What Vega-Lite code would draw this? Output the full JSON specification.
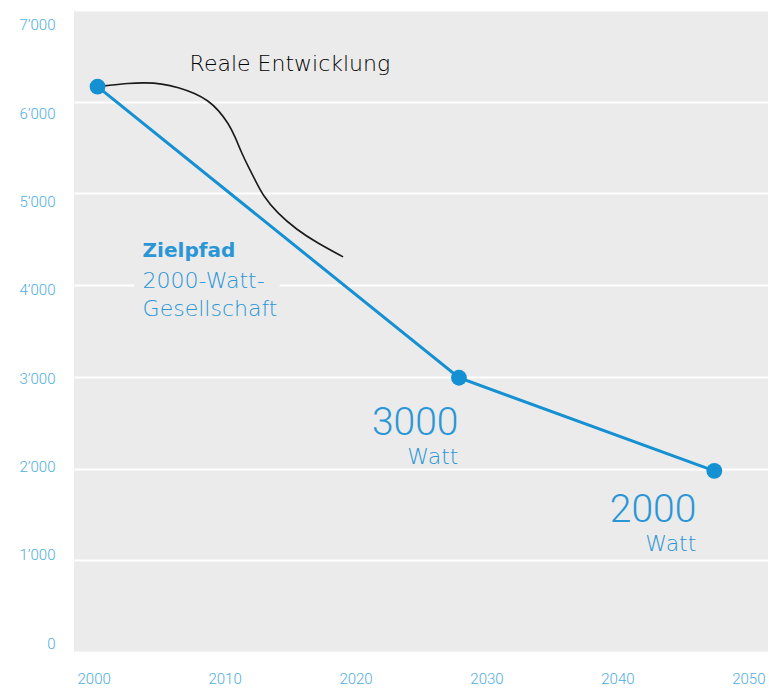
{
  "$schema": "https://vega.github.io/schema/vega-lite/v6.json",
  "width": 694,
  "height": 642,
  "autosize": "none",
  "padding": {"left": 74, "top": 10, "right": 1, "bottom": 37},
  "background": "white",
  "config": {
    "view": {"fill": "#ebebeb", "stroke": null},
    "font": "Roboto",
    "axis": {"domain": false, "ticks": false, "labelColor": "#4eaee3", "labelFont": "Roboto", "labelFontSize": 15, "title": null, "labelFontWeight": 300}
  },
  "datasets": {
    "ziel": [
      {"year": 2000.3, "value": 6165},
      {"year": 2027.9, "value": 2990},
      {"year": 2047.4, "value": 1975}
    ],
    "real": [
      {"year": 2000.3, "value": 6165},
      {"year": 2001.12, "value": 6178},
      {"year": 2002.65, "value": 6201},
      {"year": 2003.93, "value": 6208},
      {"year": 2005.2, "value": 6197},
      {"year": 2006.47, "value": 6157},
      {"year": 2007.74, "value": 6092},
      {"year": 2008.76, "value": 6011},
      {"year": 2009.52, "value": 5910},
      {"year": 2010.29, "value": 5765},
      {"year": 2010.8, "value": 5619},
      {"year": 2011.31, "value": 5438},
      {"year": 2011.81, "value": 5292},
      {"year": 2012.33, "value": 5147},
      {"year": 2012.94, "value": 4975},
      {"year": 2014.01, "value": 4787},
      {"year": 2015.53, "value": 4602},
      {"year": 2017.06, "value": 4461},
      {"year": 2019.05, "value": 4308}
    ]
  },
  "encoding": {
    "x": {"field": "year", "type": "quantitative", "scale": {"domain": [1998.5, 2051.5], "nice": false, "zero": false},
      "axis": {"values": [2000, 2010, 2020, 2030, 2040, 2050], "format": "d", "grid": false, "labelPadding": 19}},
    "y": {"field": "value", "type": "quantitative", "scale": {"domain": [0, 7000], "nice": false},
      "axis": {"values": [0, 1000, 2000, 3000, 4000, 5000, 6000, 7000], "gridColor": "white", "gridWidth": 2, "gridOpacity": 1, "labelPadding": 19,
        "labelOffset": {"expr": "-9 + 0.0034 * datum.value"},
        "labelExpr": "replace(format(datum.value, ','), ',', '’')"}}
  },
  "layer": [
    {
      "data": {"values": [{"year": 2003.1, "year2": 2014.2, "value": 3600, "value2": 4520}]},
      "mark": {"type": "rect", "fill": "#ebebeb"},
      "encoding": {"x2": {"field": "year2"}, "y2": {"field": "value2"}}
    },
    {
      "data": {"name": "real"},
      "mark": {"type": "line", "color": "#1a1a1a", "strokeWidth": 1.6, "interpolate": "basis"}
    },
    {
      "data": {"name": "ziel"},
      "mark": {"type": "line", "color": "#1590d2", "strokeWidth": 3}
    },
    {
      "data": {"name": "ziel"},
      "mark": {"type": "point", "filled": true, "color": "#1590d2", "size": 250, "opacity": 1}
    },
    {
      "data": {"values": [{"year": 2007.33, "value": 6412, "label": "Reale Entwicklung"}]},
      "mark": {"type": "text", "align": "left", "baseline": "middle", "font": "DejaVu Sans", "fontSize": 22, "fontWeight": 200, "color": "#000000"},
      "encoding": {"text": {"field": "label"}}
    },
    {
      "data": {"values": [{"year": 2003.74, "value": 4373, "label": "Zielpfad"}]},
      "mark": {"type": "text", "align": "left", "baseline": "middle", "font": "DejaVu Sans", "fontSize": 20, "fontWeight": "bold", "color": "#2a96d6"},
      "encoding": {"text": {"field": "label"}}
    },
    {
      "data": {"values": [{"year": 2003.74, "value": 4046, "label": "2000-Watt-"}, {"year": 2003.74, "value": 3740, "label": "Gesellschaft"}]},
      "mark": {"type": "text", "align": "left", "baseline": "middle", "font": "DejaVu Sans", "fontSize": 22, "fontWeight": 200, "color": "#2a96d6"},
      "encoding": {"text": {"field": "label"}}
    },
    {
      "data": {"values": [{"year": 2027.86, "value": 2497, "label": "3000"}, {"year": 2046.03, "value": 1548, "label": "2000"}]},
      "mark": {"type": "text", "align": "right", "baseline": "middle", "fontSize": 39, "fontWeight": 300, "color": "#2a96d6"},
      "encoding": {"text": {"field": "label"}}
    },
    {
      "data": {"values": [{"year": 2027.86, "value": 2126, "label": "Watt"}, {"year": 2046.03, "value": 1178, "label": "Watt"}]},
      "mark": {"type": "text", "align": "right", "baseline": "middle", "font": "DejaVu Sans", "fontSize": 22, "fontWeight": 200, "color": "#2a96d6"},
      "encoding": {"text": {"field": "label"}}
    }
  ]
}
